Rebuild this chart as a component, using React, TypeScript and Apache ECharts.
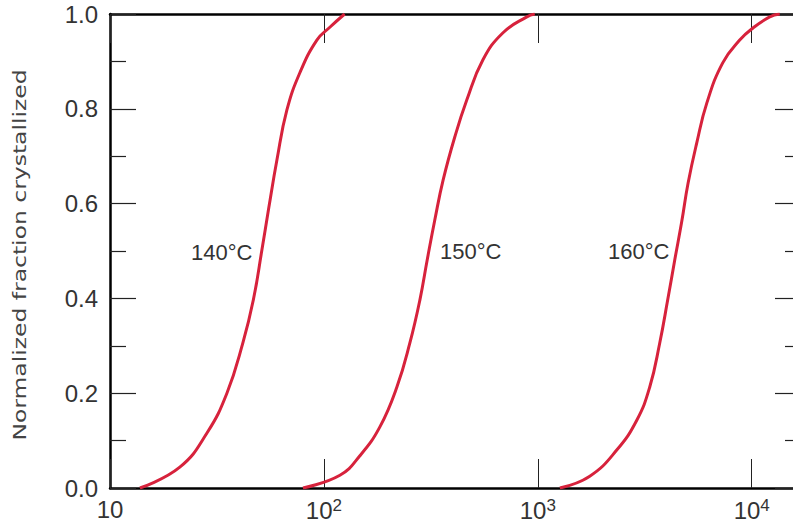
import React, { useEffect, useRef } from "react";
import * as echarts from "echarts";

// time (s), normalized fraction crystallized
const curve140: [number, number][] = [
  [13.8, 0], [21.2, 0.044], [28.4, 0.116], [35.2, 0.2], [41.8, 0.306], [46.8, 0.397],
  [51.3, 0.502], [55.2, 0.59], [60.3, 0.692], [67.1, 0.797], [77.2, 0.876],
  [92.7, 0.945], [106.6, 0.972], [125, 1.0],
];
const curve150: [number, number][] = [
  [79.8, 0], [118.8, 0.027], [147.3, 0.068], [182.7, 0.129], [219.4, 0.213], [252.3, 0.306],
  [281.1, 0.397], [304, 0.481], [330.1, 0.566], [361, 0.65], [409.4, 0.741],
  [465.9, 0.819], [553.3, 0.903], [685.7, 0.96], [888.5, 0.994], [968, 1.0],
];
const curve160: [number, number][] = [
  [1268, 0], [1750, 0.025], [2339, 0.08], [2902, 0.143], [3337, 0.213], [3716, 0.306],
  [4049, 0.397], [4367, 0.481], [4709, 0.562], [5040, 0.643], [5535, 0.728],
  [6166, 0.812], [7319, 0.897], [8790, 0.945], [10110, 0.97], [12140, 0.994], [13520, 1.0],
];
const curveNames = ["140°C", "150°C", "160°C"];
const xTickValues = [10, 100, 1000, 10000];
const yTickValues = [0, 0.2, 0.4, 0.6, 0.8, 1.0];
const yTitle = "Normalized fraction crystallized";

export default function App() {
  const ref = useRef<HTMLDivElement>(null);
  useEffect(() => {
    if (!ref.current) return;
    const chart = echarts.init(ref.current, undefined, { renderer: "svg" });
    const red = "#d7223c";
    const font = "'Liberation Sans', Arial, sans-serif";
    const xFmt = (v: number) => {
      const hit = xTickValues.find((t) => Math.abs(t - v) / t < 1e-6);
      if (hit === undefined) return "";
      const e = Math.round(Math.log10(hit));
      return e === 1 ? "{b|10}" : "{b|10}{s|" + e + "}";
    };
    const yFmt = (v: number) => {
      const hit = yTickValues.find((t) => Math.abs(t - v) < 1e-6);
      return hit === undefined ? "" : hit.toFixed(1);
    };
    const axisLine = { show: true, onZero: false, lineStyle: { color: "#000", width: 2.5 } };
    const xCommon = {
      type: "log" as const,
      logBase: 10,
      min: 10,
      max: 17000,
      axisLine,
      splitLine: { show: false },
      axisTick: { show: true, inside: true, length: 29, lineStyle: { color: "#222", width: 1 } },
    };
    const yCommon = {
      type: "value" as const,
      min: 0,
      max: 1,
      interval: 0.2,
      axisLine,
      splitLine: { show: false },
      axisTick: { show: true, inside: true, length: 26, lineStyle: { color: "#222", width: 1.2 } },
      minorTick: { show: true, splitNumber: 2, length: 16, lineStyle: { color: "#222", width: 1.2 } },
    };
    const mk = (name: string, data: [number, number][]) => ({
      name,
      type: "line" as const,
      data,
      smooth: 0.45,
      showSymbol: false,
      symbol: "none",
      clip: true,
      lineStyle: { color: red, width: 3 },
      z: 1,
    });
    chart.setOption({
      animation: false,
      backgroundColor: "#fff",
      grid: { left: 110, top: 14, width: 691, height: 474, containLabel: false, outerBoundsMode: "none" },
      xAxis: [
        {
          ...xCommon,
          position: "bottom",
          axisLabel: {
            show: true,
            margin: 9,
            formatter: xFmt,
            color: "#333",
            fontFamily: font,
            rich: {
              b: { fontSize: 24, color: "#333", fontFamily: font },
              s: { fontSize: 17, color: "#333", fontFamily: font, padding: [0, 0, 9, 0] },
            },
          },
        },
        { ...xCommon, position: "top", axisLabel: { show: false } },
      ],
      yAxis: [
        {
          ...yCommon,
          position: "left",
          axisLabel: { show: true, margin: 12, formatter: yFmt, fontSize: 24, color: "#333", fontFamily: font },
        },
        { ...yCommon, position: "right", axisLabel: { show: false } },
      ],
      series: [mk(curveNames[0], curve140), mk(curveNames[1], curve150), mk(curveNames[2], curve160)],
      graphic: [
        {
          type: "text",
          x: 20,
          y: 255,
          rotation: Math.PI / 2,
          scaleX: 1.38,
          style: {
            text: yTitle,
            fontSize: 17,
            fontFamily: "'DejaVu Sans', sans-serif",
            fill: "#444",
            align: "center",
            verticalAlign: "middle",
          },
        },
        { type: "text", x: 191, y: 252, style: { text: curveNames[0], fontSize: 22, fontFamily: font, fill: "#333", verticalAlign: "middle" } },
        { type: "text", x: 440, y: 251, style: { text: curveNames[1], fontSize: 22, fontFamily: font, fill: "#333", verticalAlign: "middle" } },
        { type: "text", x: 608, y: 251, style: { text: curveNames[2], fontSize: 22, fontFamily: font, fill: "#333", verticalAlign: "middle" } },
      ],
    });
    return () => chart.dispose();
  }, []);
  return (
    <div
      ref={ref}
      style={{ position: "fixed", left: 0, top: 0, width: 793, height: 528, overflow: "hidden", background: "#fff" }}
    />
  );
}
